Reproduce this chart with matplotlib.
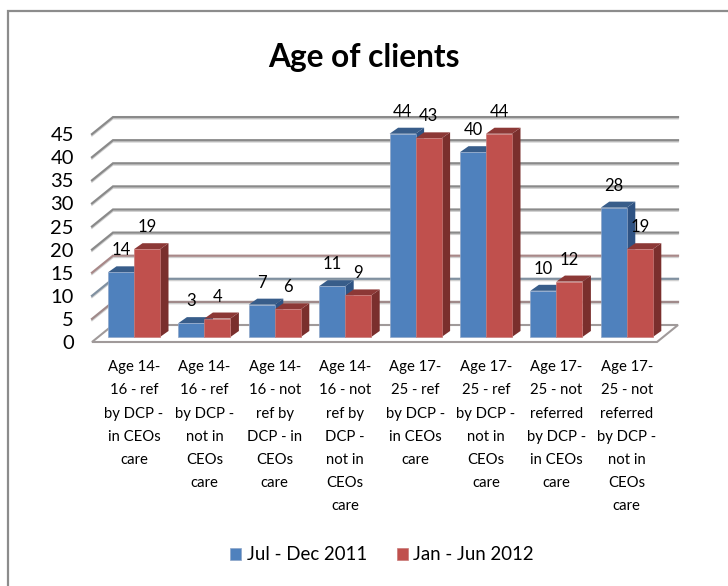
import matplotlib
matplotlib.use("Agg")
import matplotlib.pyplot as plt
from matplotlib.lines import Line2D
from matplotlib.patches import Polygon

plt.rcParams['font.family'] = ['Lato', 'DejaVu Sans']

categories = [
    "Age 14-\n16 - ref\nby DCP -\nin CEOs\ncare",
    "Age 14-\n16 - ref\nby DCP -\nnot in\nCEOs\ncare",
    "Age 14-\n16 - not\nref by\nDCP - in\nCEOs\ncare",
    "Age 14-\n16 - not\nref by\nDCP -\nnot in\nCEOs\ncare",
    "Age 17-\n25 - ref\nby DCP -\nin CEOs\ncare",
    "Age 17-\n25 - ref\nby DCP -\nnot in\nCEOs\ncare",
    "Age 17-\n25 - not\nreferred\nby DCP -\nin CEOs\ncare",
    "Age 17-\n25 - not\nreferred\nby DCP -\nnot in\nCEOs\ncare",
]
jul_dec_2011 = [14, 3, 7, 11, 44, 40, 10, 28]
jan_jun_2012 = [19, 4, 6, 9, 43, 44, 12, 19]
y_ticks = [0, 5, 10, 15, 20, 25, 30, 35, 40, 45]
grid_colors = ['#a89090', '#a08a8a', '#8090a0', '#a88888', '#8a8a8a', '#8a8a8a',
               '#8a8a8a', '#8a8a8a', '#8a8a8a', '#8a8a8a']

W, H = 728, 586
GROUP_PX = 70.4
UNIT_PX = 4.62

# fake 3d offsets, all in data units
bar_w = 26 / GROUP_PX
bar_dx = 8.5 / GROUP_PX
bar_dy = 6 / UNIT_PX
wall_dx = 21 / GROUP_PX
wall_dy = 17 / UNIT_PX
floor_drop = 5 / UNIT_PX

fig = plt.figure(figsize=(W / 100, H / 100), dpi=100)

# outer frame only shows on the top and left
fig.add_artist(Line2D([8 / W, 8 / W, 1], [0, 1 - 11 / H, 1 - 11 / H], color='#8c8c8c', lw=1.6,
                      solid_joinstyle='miter'))

left, right, top, bottom = 92, 680, 110, 342
ax = fig.add_axes([left / W, 1 - bottom / H, (right - left) / W, (bottom - top) / H])
ax.patch.set_visible(False)
ax.set_xlim((left - 134) / GROUP_PX, (right - 134) / GROUP_PX)
ax.set_ylim(-floor_drop, (337 - top) / UNIT_PX)
for s in ax.spines.values():
    s.set_visible(False)

x0 = ax.get_xlim()[0]
x1 = (657 - 134) / GROUP_PX

# gridlines, front-left stub then the back wall
for v, c in zip(y_ticks, grid_colors):
    y = v - floor_drop
    if v > 0:
        ax.plot([x0, x0 + wall_dx, x1 + wall_dx], [y - 0.35, y - 0.35 + wall_dy, y - 0.35 + wall_dy],
                color='#d0d0d0', lw=1.2, zorder=1, clip_on=False)
        ax.plot([x0, x0 + wall_dx, x1 + wall_dx], [y, y + wall_dy, y + wall_dy],
                color=c, lw=1.6, zorder=1.1, clip_on=False, solid_joinstyle='miter')

# floor
floor = [(x0, -floor_drop), (x1, -floor_drop), (x1 + wall_dx, -floor_drop + wall_dy),
         (x0 + wall_dx, -floor_drop + wall_dy)]
ax.add_patch(Polygon(floor, closed=True, fc='white', ec='#a09a9a', lw=1.5, zorder=1.5, clip_on=False))


def draw_bars(xs, vals, front, side, topc, label, z):
    bars = ax.bar(xs, vals, bar_w, color=front, label=label, zorder=z + 0.2,
                  edgecolor='#8fa6c8' if front == '#4F81BD' else '#c97a78', linewidth=0.5)
    for b in bars:
        xa, xb, h = b.get_x(), b.get_x() + b.get_width(), b.get_height()
        ax.add_patch(Polygon([(xb, 0), (xb + bar_dx, bar_dy), (xb + bar_dx, h + bar_dy), (xb, h)],
                             closed=True, fc=side, ec='none', zorder=z))
        ax.add_patch(Polygon([(xa, h), (xa + bar_dx, h + bar_dy), (xb + bar_dx, h + bar_dy), (xb, h)],
                             closed=True, fc=topc, ec='none', zorder=z + 0.1))
        ax.annotate(str(int(h)), (b.get_x() + b.get_width() / 2, h), xytext=(0, 15.8),
                    textcoords='offset points', ha='center', va='center', fontsize=12,
                    color='black', zorder=10)


idx = list(range(len(categories)))
draw_bars([i - bar_w / 2 for i in idx], jul_dec_2011, '#4F81BD', '#2F5383', '#385D8A', 'Jul - Dec 2011', 3)
draw_bars([i + bar_w / 2 for i in idx], jan_jun_2012, '#C0504D', '#7A2F2D', '#8C3836', 'Jan - Jun 2012', 4)

ax.set_yticks([v - floor_drop for v in y_ticks])
ax.set_yticklabels([str(v) for v in y_ticks], fontsize=14.5)
ax.tick_params(axis='y', length=0, pad=13)
ax.set_xticks(idx)
ax.set_xticklabels(categories, fontsize=10.7, linespacing=1.84)
ax.tick_params(axis='x', length=0, pad=13)

fig.text(364 / W, 1 - 58 / H, "Age of clients", ha='center', va='center',
         fontsize=22.8, fontweight='bold')

fig.legend(loc='center', bbox_to_anchor=(382 / W, 1 - 555 / H), ncol=2, frameon=False, fontsize=13.4,
           handlelength=0.6, handleheight=0.6, handletextpad=0.3, columnspacing=1.6)

fig.savefig('out.png', dpi=100)
